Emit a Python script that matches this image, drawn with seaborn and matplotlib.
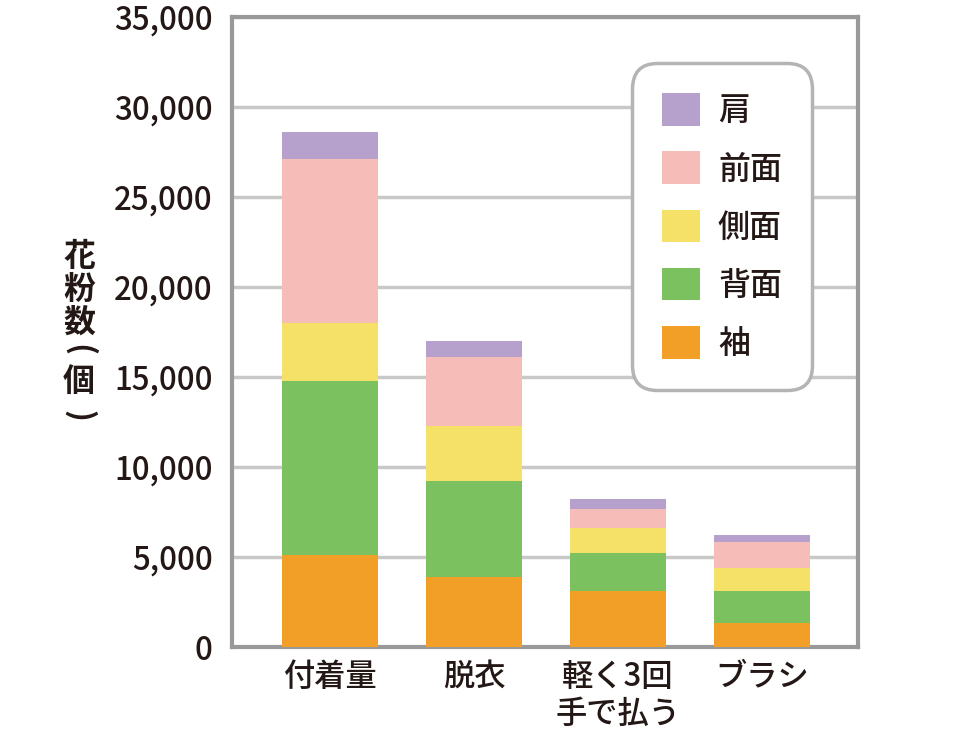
import numpy as np
import pandas as pd
import matplotlib
matplotlib.use("Agg")
import matplotlib.pyplot as plt
import seaborn as sns
from matplotlib.patches import Patch

# data (counts), stacked bottom -> top
categories = ["付着量", "脱衣", "軽く3回\n手で払う", "ブラシ"]
parts = ["袖", "背面", "側面", "前面", "肩"]
sode = [5100, 3900, 3130, 1350]
haimen = [9700, 5300, 2110, 1740]
sokumen = [3200, 3100, 1350, 1290]
zenmen = [9100, 3800, 1050, 1430]
kata = [1500, 900, 560, 430]

colors = ["#F29F28", "#7BC160", "#F5E168", "#F5BCB8", "#B5A1CC"]
text_color = "#231815"

sns.set_theme(style="white")
plt.rcParams["font.family"] = ["Noto Sans CJK JP", "DejaVu Sans"]
plt.rcParams["font.weight"] = "medium"

fig = plt.figure(figsize=(9.6, 7.32), dpi=100)
ax = fig.add_axes([232 / 960, 1 - 647 / 732, 626 / 960, 630 / 732])

values = [sode, haimen, sokumen, zenmen, kata]
bottom = np.zeros(len(categories))
for name, vals, col in zip(parts, values, colors):
    df = pd.DataFrame({"cat": categories, "n": vals})
    sns.barplot(data=df, x="cat", y="n", color=col, saturation=1,
                width=0.667, bottom=bottom, ax=ax, linewidth=0, zorder=3)
    bottom = bottom + np.array(vals)

ax.set_xlim(-0.68, 3.667)
ax.set_ylim(0, 35000)
ax.set_yticks(np.arange(0, 35001, 5000))
ax.set_yticklabels([f"{v:,}" for v in range(0, 35001, 5000)])
ax.yaxis.grid(True, color="#c8c8c8", linewidth=2.5, zorder=0)
ax.set_axisbelow(True)
for s in ax.spines.values():
    s.set_color("#999999")
    s.set_linewidth(3)
ax.tick_params(axis="both", length=0, labelsize=22.5, colors=text_color)
ax.tick_params(axis="y", pad=14)
ax.tick_params(axis="x", pad=10)
ax.set_xlabel("")
ax.set_ylabel("")

# vertical y label "花粉数（個）", one character per line, parens turned
ylab = ["花", "粉", "数", "(", "個", ")"]
ylab_y = [257, 291, 323, 350, 382, 416]
for ch, yy in zip(ylab, ylab_y):
    rot = -90 if ch in "()" else 0
    fig.text(79 / 960, 1 - yy / 732, ch, fontsize=23, color=text_color,
             ha="center", va="center", fontweight="bold", rotation=rot)

handles = [Patch(facecolor=c, edgecolor="none") for c in colors][::-1]
leg = ax.legend(handles, parts[::-1], loc="upper right",
                bbox_to_anchor=(0.927, 0.927), borderaxespad=0, fontsize=23,
                frameon=True, fancybox=True, framealpha=1,
                handlelength=1.2, handleheight=1.2, handletextpad=0.55,
                labelspacing=0.75, borderpad=0.95, labelcolor=text_color)
leg.get_frame().set_edgecolor("#b4b4b4")
leg.get_frame().set_linewidth(2.5)
leg.get_frame().set_boxstyle("round", pad=0, rounding_size=0.8)
leg.set_zorder(5)

fig.savefig("out.png", dpi=100)
